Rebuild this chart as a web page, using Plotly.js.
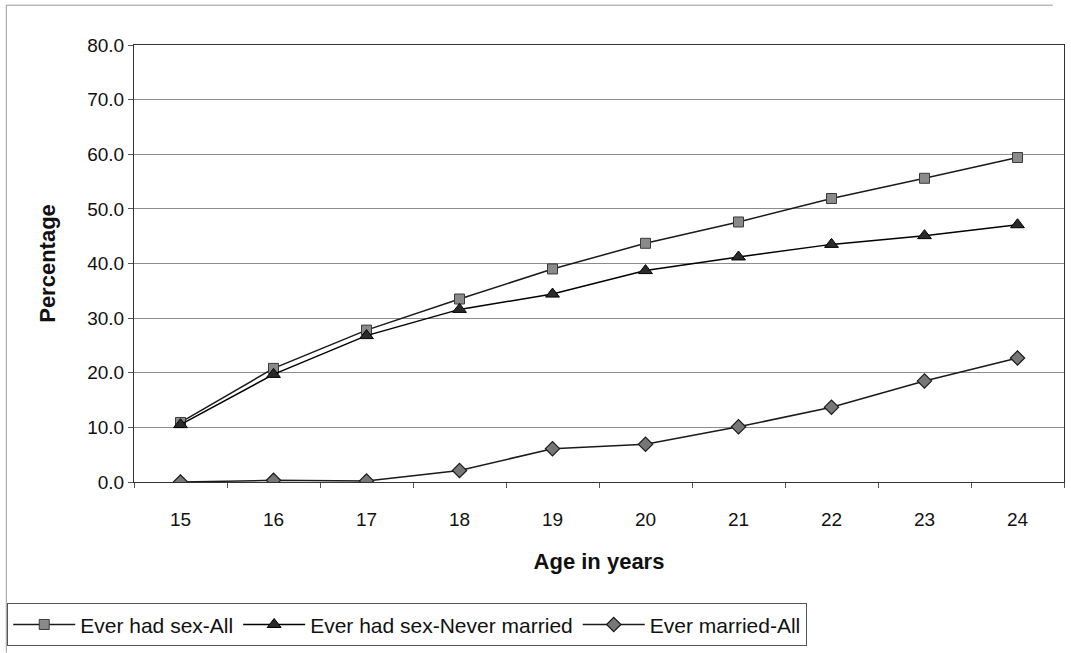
<!DOCTYPE html>
<html>
<head>
<meta charset="utf-8">
<script src="https://cdn.plot.ly/plotly-3.0.1.min.js"></script>
<style>
  html, body { margin: 0; padding: 0; background: #fff; }
  #chart { width: 1071px; height: 653px; }
</style>
</head>
<body>
<div id="chart"></div>
<script>
// Data
const ages = ["15", "16", "17", "18", "19", "20", "21", "22", "23", "24"];
const everSexAll = [10.9, 20.8, 27.8, 33.5, 39.0, 43.7, 47.6, 51.9, 55.6, 59.4];
const everSexNeverMarried = [10.5, 19.7, 26.8, 31.6, 34.4, 38.7, 41.2, 43.5, 45.1, 47.1];
const everMarriedAll = [0.0, 0.3, 0.2, 2.1, 6.1, 6.9, 10.1, 13.7, 18.5, 22.7];
const seriesNames = ["Ever had sex-All", "Ever had sex-Never married", "Ever married-All"];
const yTicks = [0, 10, 20, 30, 40, 50, 60, 70, 80];

const font = "Liberation Sans, Arial, sans-serif";

const traces = [
  {
    x: ages, y: everSexAll, name: seriesNames[0], type: "scatter", mode: "lines+markers",
    line: { color: "#1a1a1a", width: 1.5 },
    marker: { symbol: "square", size: 10, color: "#8a8a8a", line: { color: "#3a3a3a", width: 1 } }
  },
  {
    x: ages, y: everSexNeverMarried, name: seriesNames[1], type: "scatter", mode: "lines+markers",
    line: { color: "#000000", width: 1.5 },
    marker: { symbol: "triangle-up", size: 12, color: "#2a2a2a", line: { color: "#000", width: 1 } }
  },
  {
    x: ages, y: everMarriedAll, name: seriesNames[2], type: "scatter", mode: "lines+markers",
    line: { color: "#1a1a1a", width: 1.5 },
    marker: { symbol: "diamond", size: 11, color: "#777777", line: { color: "#1a1a1a", width: 1.2 } }
  }
];

const layout = {
  width: 1071, height: 653,
  paper_bgcolor: "#ffffff", plot_bgcolor: "#ffffff",
  margin: { l: 132, r: 7, t: 45, b: 169 },
  font: { family: font, color: "#111" },
  showlegend: true,
  xaxis: {
    type: "category",
    range: [-0.5, 9.5],
    tickson: "boundaries",
    ticks: "outside", ticklen: 5, tickcolor: "#555",
    ticklabelstandoff: 20,
    tickfont: { size: 19, family: font, color: "#111" },
    showline: true, linecolor: "#333", linewidth: 1, mirror: true,
    showgrid: false, zeroline: false,
    title: { text: "<b>Age in years</b>", font: { size: 22, family: font, color: "#111" }, standoff: 24 }
  },
  yaxis: {
    range: [0, 80],
    tickvals: yTicks,
    tickformat: ".1f",
    ticks: "outside", ticklen: 5, tickcolor: "#555",
    tickfont: { size: 19, family: font, color: "#111" },
    showline: true, linecolor: "#333", linewidth: 1, mirror: true,
    showgrid: true, gridcolor: "#8c8c8c", gridwidth: 1,
    zeroline: false,
    title: { text: "<b>Percentage</b>", font: { size: 22, family: font, color: "#111" }, standoff: 25 }
  },
  legend: {
    orientation: "h",
    x: -0.1363, y: -0.376, xanchor: "left", yanchor: "bottom",
    bordercolor: "#555", borderwidth: 1, bgcolor: "#fff",
    font: { size: 21, family: font, color: "#111" },
    itemwidth: 62, tracegroupgap: 0
  },
  shapes: [
    { type: "line", xref: "paper", yref: "paper", x0: -0.1373, x1: -0.1373, y0: 1.0911, y1: -0.39,
      line: { color: "#999", width: 1 } },
    { type: "line", xref: "paper", yref: "paper", x0: -0.1373, x1: 0.988, y0: 1.0911, y1: 1.0911,
      line: { color: "#999", width: 1 } }
  ]
};

Plotly.newPlot("chart", traces, layout, { displayModeBar: false, staticPlot: true });
</script>
</body>
</html>
